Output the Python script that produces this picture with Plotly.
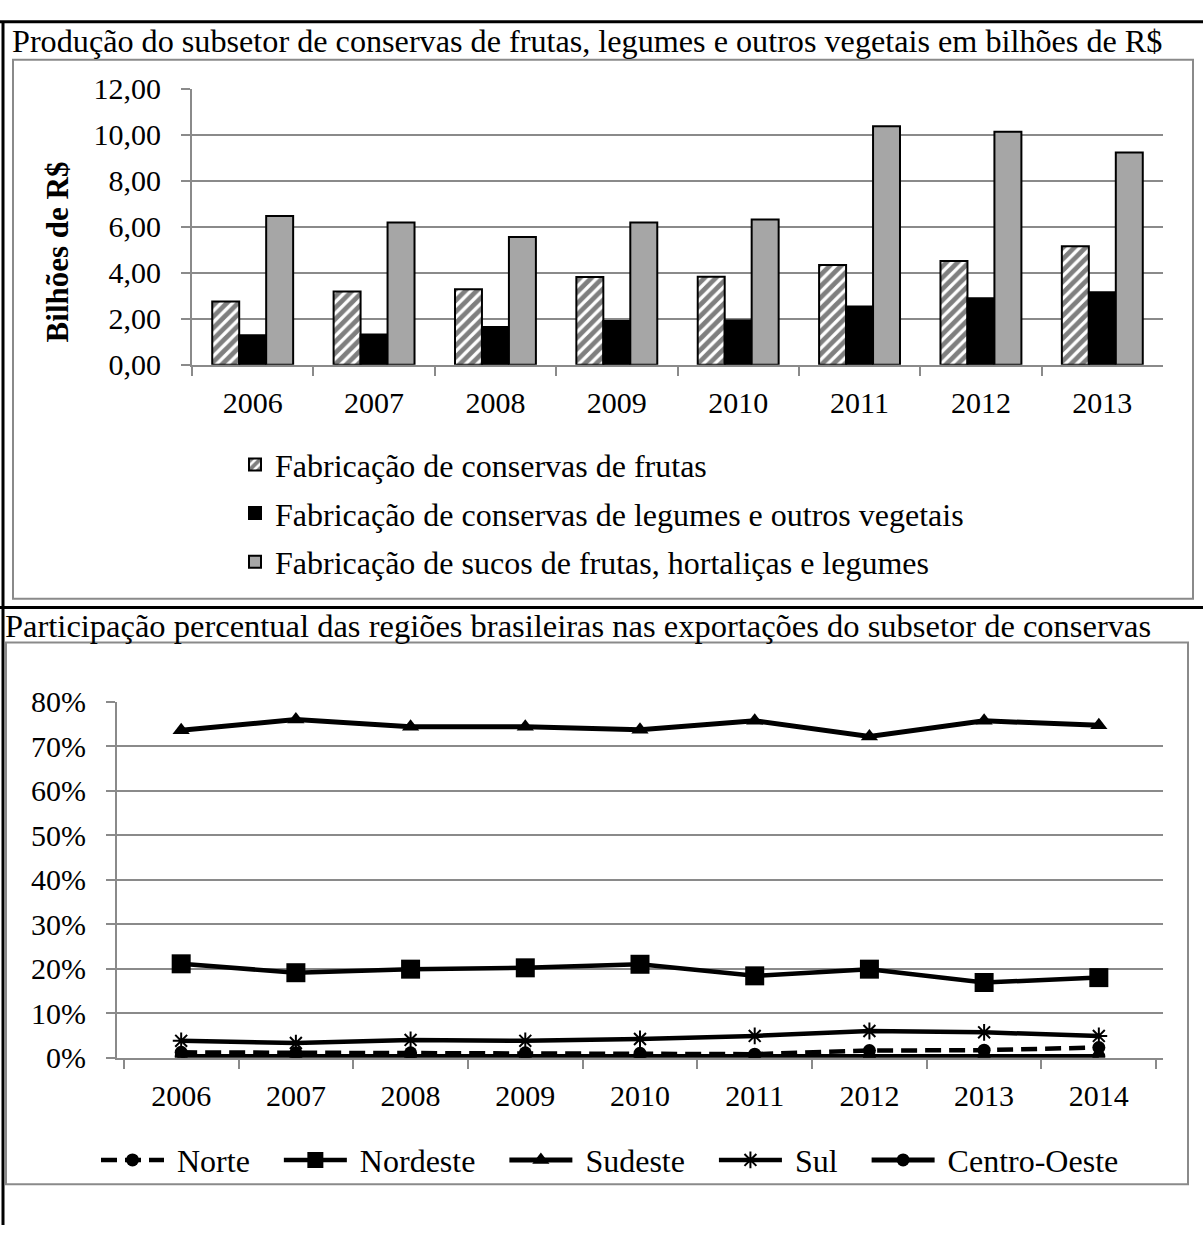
import plotly.graph_objects as go

W, H = 1203, 1242

# --- Produção (bilhões de R$) ---
anos_prod = ["2006", "2007", "2008", "2009", "2010", "2011", "2012", "2013"]
conservas_frutas = [2.75, 3.19, 3.28, 3.82, 3.83, 4.34, 4.51, 5.15]
conservas_legumes = [1.28, 1.31, 1.64, 1.90, 1.92, 2.53, 2.89, 3.15]
sucos = [6.47, 6.19, 5.56, 6.19, 6.32, 10.38, 10.14, 9.24]

# --- Participação nas exportações (%) ---
anos_exp = ["2006", "2007", "2008", "2009", "2010", "2011", "2012", "2013", "2014"]
norte = [1.2, 1.1, 1.1, 1.1, 1.0, 0.8, 1.6, 1.7, 2.3]
nordeste = [21.1, 19.1, 19.9, 20.2, 21.0, 18.4, 19.9, 16.9, 18.0]
sudeste = [73.6, 76.0, 74.4, 74.4, 73.7, 75.7, 72.2, 75.7, 74.7]
sul = [3.8, 3.3, 4.0, 3.8, 4.2, 4.9, 6.0, 5.7, 4.9]
centro_oeste = [0.3, 0.3, 0.4, 0.3, 0.3, 0.3, 0.2, 0.2, 0.3]

FONT = "Liberation Serif"
GRID = "#8a8a8a"
NBSP = "\u00a0"


def px(x):
    return x / W


def py(y):
    return 1 - y / H


fig = go.Figure()

# bars
fig.add_trace(go.Bar(
    x=anos_prod, y=conservas_frutas, name="Fabricação de conservas de frutas",
    marker=dict(color="white", line=dict(color="black", width=2),
                pattern=dict(shape="/", fgcolor="black", bgcolor="white",
                             size=8, solidity=0.6)),
    xaxis="x", yaxis="y", legend="legend", legendgroup="a"))
fig.add_trace(go.Bar(
    x=anos_prod, y=conservas_legumes,
    name="Fabricação de conservas de legumes e outros vegetais",
    marker=dict(color="black", line=dict(color="black", width=2)),
    xaxis="x", yaxis="y", legend="legend", legendgroup="b"))
fig.add_trace(go.Bar(
    x=anos_prod, y=sucos,
    name="Fabricação de sucos de frutas, hortaliças e legumes",
    marker=dict(color="#a6a6a6", line=dict(color="black", width=2)),
    xaxis="x", yaxis="y", legend="legend", legendgroup="c"))

# lines
series = [
    ("Norte", norte, dict(dash="16px,8px", width=4.5), dict(symbol="circle", size=13)),
    ("Nordeste", nordeste, dict(width=4.5), dict(symbol="square", size=19)),
    ("Sudeste", sudeste, dict(width=5), dict(symbol="triangle-up", size=15)),
    ("Sul", sul, dict(width=4.5),
     dict(symbol="asterisk-open", size=14, line=dict(color="black", width=2))),
    ("Centro-Oeste", centro_oeste, dict(width=5), dict(symbol="circle", size=13)),
]
for nome, vals, ln, mk in series:
    mk = dict(color="black", **mk)
    fig.add_trace(go.Scatter(
        x=anos_exp, y=vals, name=NBSP + nome + NBSP * 3, mode="lines+markers",
        line=dict(color="black", **ln), marker=mk,
        xaxis="x2", yaxis="y2", legend="legend2"))

axis_common = dict(
    showline=True, linecolor=GRID, linewidth=2,
    ticks="outside", ticklen=9, tickwidth=2, tickcolor=GRID,
    tickfont=dict(family=FONT, size=30, color="black"),
    fixedrange=True,
)

fig.update_layout(
    width=W, height=H,
    margin=dict(l=0, r=0, t=0, b=0),
    paper_bgcolor="white", plot_bgcolor="white",
    separators=",.",
    barmode="group", bargap=1 / 3, bargroupgap=0,
    showlegend=True,
    font=dict(family=FONT, size=30, color="black"),
    xaxis=dict(domain=[px(192), px(1163)], anchor="y", tickson="boundaries",
               ticklabelstandoff=10, **axis_common),
    yaxis=dict(domain=[py(357.5), py(74)], anchor="x", range=[0, 12], dtick=2,
               tickformat=".2f", showgrid=True, gridcolor=GRID, gridwidth=2,
               zeroline=False, ticklabelstandoff=14, **axis_common),
    xaxis2=dict(domain=[px(117), px(1163)], anchor="y2", tickson="boundaries",
                ticklabelstandoff=10, **axis_common),
    yaxis2=dict(domain=[py(1070), py(704)], anchor="x2", range=[0, 80], dtick=10,
                ticksuffix="%", showgrid=True, gridcolor=GRID, gridwidth=2,
                zeroline=False, ticklabelstandoff=14, **axis_common),
    legend=dict(x=px(235), y=py(432), xanchor="left", yanchor="top",
                orientation="v", tracegroupgap=4, bgcolor="rgba(0,0,0,0)",
                font=dict(family=FONT, size=32, color="black")),
    legend2=dict(x=px(96), y=py(1147), xanchor="left", yanchor="top",
                 orientation="h", itemwidth=63, bgcolor="rgba(0,0,0,0)",
                 font=dict(family=FONT, size=32, color="black")),
)

# titles and axis title
fig.add_annotation(
    text="Produção do subsetor de conservas de frutas, legumes e outros vegetais em bilhões de R$",
    xref="paper", yref="paper", x=px(10), y=py(25), xanchor="left", yanchor="middle",
    showarrow=False, font=dict(family=FONT, size=32.2, color="black"))
fig.add_annotation(
    text="Participação percentual das regiões brasileiras nas exportações do subsetor de conservas",
    xref="paper", yref="paper", x=px(3), y=py(626), xanchor="left", yanchor="middle",
    showarrow=False, font=dict(family=FONT, size=32.5, color="black"))
fig.add_annotation(
    text="<b>Bilhões de R$</b>", textangle=-90,
    xref="paper", yref="paper", x=px(57), y=py(242), xanchor="center", yanchor="middle",
    showarrow=False, font=dict(family=FONT, size=31, color="black"))

# chart frames (gray) and page borders (black)
shapes = [
    dict(type="rect", xref="paper", yref="paper", x0=px(13), x1=px(1193),
         y0=py(598), y1=py(44), line=dict(color="#8a8a8a", width=2)),
    dict(type="rect", xref="paper", yref="paper", x0=px(6), x1=px(1188),
         y0=py(1200), y1=py(643), line=dict(color="#8a8a8a", width=2)),
    dict(type="line", xref="paper", yref="paper", x0=px(3), x1=px(3),
         y0=0, y1=py(5), line=dict(color="black", width=3)),
    dict(type="line", xref="paper", yref="paper", x0=0, x1=1,
         y0=py(5), y1=py(5), line=dict(color="black", width=3)),
    dict(type="line", xref="paper", yref="paper", x0=0, x1=1,
         y0=py(607), y1=py(607), line=dict(color="black", width=3)),
]
fig.update_layout(shapes=shapes)

fig.write_html("out.html")
